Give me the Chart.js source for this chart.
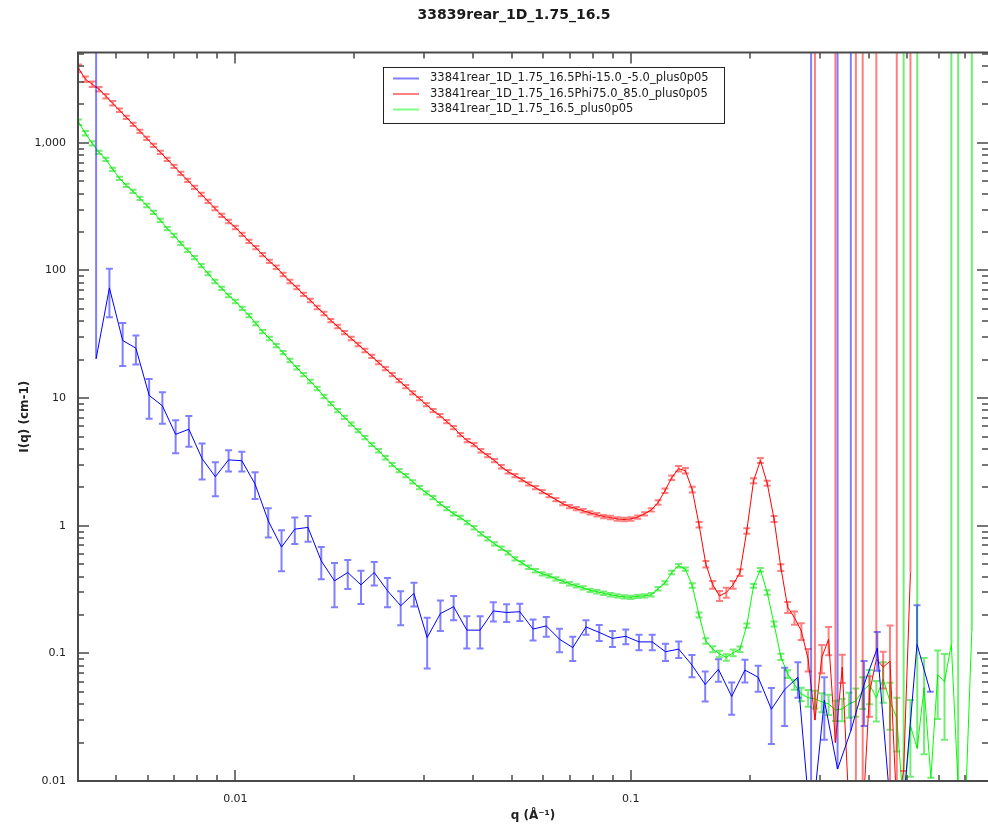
<!DOCTYPE html>
<html>
<head>
<meta charset="utf-8">
<title>33839rear_1D_1.75_16.5</title>
<script src="https://cdn.jsdelivr.net/npm/chart.js"></script>
<style>
  html, body { margin: 0; padding: 0; background: #fff; }
  canvas { display: block; }
</style>
</head>
<body>
<canvas id="sasChart" width="988" height="824"></canvas>
<script>
// fine q grid shared by the Phi75 sector and the full average (A^-1)
const qFine = [
  // 1e-3 decade
  0.0040131, 0.0041757, 0.0043448, 0.0045208, 0.0047039, 0.0048944, 0.0050926, 0.0052989,
  0.0055135, 0.0057368, 0.0059691, 0.0062109, 0.0064624, 0.0067242, 0.0069965, 0.0072798,
  0.0075747, 0.0078815, 0.0082007, 0.0085328, 0.0088784, 0.009238, 0.0096121,
  // 1e-2 decade
  0.01, 0.010405, 0.010826, 0.011265, 0.011721, 0.012195, 0.012689, 0.013203, 0.013738, 0.014294,
  0.014873, 0.015476, 0.016103, 0.016755, 0.017433, 0.01814, 0.018874, 0.019639, 0.020434, 0.021262,
  0.022123, 0.023019, 0.023951, 0.024921, 0.025931, 0.026981, 0.028074, 0.029211, 0.030394, 0.031625,
  0.032906, 0.034238, 0.035625, 0.037068, 0.038569, 0.040131, 0.041757, 0.043448, 0.045208, 0.047039,
  0.048944, 0.050926, 0.052989, 0.055135, 0.057368, 0.059691, 0.062109, 0.064624, 0.067242, 0.069965,
  0.072798, 0.075747, 0.078815, 0.082007, 0.085328, 0.088784, 0.09238, 0.096121,
  // 1e-1 decade
  0.1, 0.10405, 0.10826, 0.11265, 0.11721, 0.12195, 0.12689, 0.13203, 0.13738, 0.14294,
  0.14873, 0.15476, 0.16103, 0.16755, 0.17433, 0.1814, 0.18874, 0.19639, 0.20434, 0.21262,
  0.22123, 0.23019, 0.23951, 0.24921, 0.25931, 0.26981, 0.28074, 0.29211, 0.30394, 0.31625,
  0.32906, 0.34238, 0.35625, 0.37068, 0.38569, 0.40131, 0.41757, 0.43448, 0.45208, 0.47039,
  0.48944, 0.50926, 0.52989, 0.55135, 0.57368, 0.59691, 0.62109, 0.64624, 0.67242, 0.69965,
  0.72798
];

// coarser grid of the Phi-15 sector
const qBlue = [
  0.004445, 0.004803, 0.005188, 0.0056036, 0.0060527, 0.006538, 0.0070616, 0.0076275, 0.0082387, 0.008899,
  0.0096117, 0.010382, 0.011214, 0.012112, 0.013083, 0.014132, 0.015264, 0.016489, 0.017809, 0.019237,
  0.020778, 0.022443, 0.024241, 0.026182, 0.028281, 0.030547, 0.032993, 0.035637, 0.038491, 0.041575,
  0.044905, 0.048502, 0.052388, 0.056585, 0.061117, 0.066013, 0.071301, 0.077013, 0.083181, 0.089845,
  0.09708, 0.10486, 0.11327, 0.12234, 0.13214, 0.14272, 0.15417, 0.16653, 0.17987, 0.19428,
  0.20986, 0.22666, 0.24482, 0.26444, 0.28561, 0.30849, 0.33322, 0.35994, 0.38876, 0.4199,
  0.45355, 0.48989, 0.52913, 0.5716
];

// I(q) in cm^-1, Phi -15.0 .. -5.0
const blueI = [
  20.3, 73, 28.3, 24.6, 10.5, 8.7, 5.2, 5.7, 3.35, 2.42,
  3.28, 3.23, 2.12, 1.09, 0.68, 0.94, 0.97, 0.53, 0.37, 0.43,
  0.344, 0.43, 0.31, 0.236, 0.295, 0.133, 0.205, 0.232, 0.152, 0.152,
  0.215, 0.209, 0.212, 0.155, 0.164, 0.129, 0.111, 0.161, 0.146, 0.131,
  0.136, 0.123, 0.123, 0.103, 0.108, 0.081, 0.057, 0.075, 0.046, 0.074,
  0.065, 0.0365, 0.052, 0.065, 0.004, 0.043, 0.0124, 0.0247, 0.057, 0.11,
  0.006, 0.007, 0.118, 0.05
];
const blueErr = [
  9000, 30, 10.5, 6.3, 3.6, 2.4, 1.5, 1.55, 1.05, 0.72,
  0.62, 0.57, 0.5, 0.28, 0.24, 0.22, 0.22, 0.15, 0.14, 0.11,
  0.10, 0.09, 0.08, 0.07, 0.062, 0.057, 0.055, 0.05, 0.043, 0.043,
  0.037, 0.033, 0.033, 0.029, 0.029, 0.027, 0.024, 0.021, 0.021, 0.019,
  0.018, 0.017, 0.017, 0.016, 0.016, 0.016, 0.015, 0.015, 0.013, 0.015,
  0.015, 0.017, 0.025, 0.02, 9000, 0.022, 9000, 9000, 0.03, 0.037,
  0, 0, 0.12, 0
];

// Phi 75.0 .. 85.0
const redI = [
  3840, 3150, 2880, 2630, 2320, 2040, 1800, 1585, 1396, 1231,
  1084, 955, 842, 742, 654, 576, 508, 448, 394, 348,
  306, 270, 242,
  217, 192, 169, 151, 133, 118, 106, 93, 82, 73.6,
  64.9, 58.2, 51.3, 46.0, 40.5, 36.4, 32.6, 29.3, 26.3, 23.6,
  21.2, 19.0, 17.0, 15.3, 13.7, 12.3, 11.0, 9.91, 8.89, 7.98,
  7.29, 6.54, 5.87, 5.17, 4.64, 4.32, 3.87, 3.54, 3.24, 2.90,
  2.65, 2.47, 2.30, 2.13, 1.99, 1.85, 1.72, 1.60, 1.49, 1.41,
  1.36, 1.31, 1.26, 1.22, 1.18, 1.16, 1.13, 1.12,
  1.13, 1.17, 1.24, 1.33, 1.52, 1.88, 2.38, 2.80, 2.70, 1.92,
  1.02, 0.50, 0.345, 0.282, 0.30, 0.345, 0.43, 0.91, 2.25, 3.24,
  2.15, 1.13, 0.47, 0.23, 0.19, 0.15, 0.09, 0.03, 0.093, 0.129,
  0.02, 0.078, 0.006, 0.005, 0.005, 0.049, 0.09, 0.078, 0.087, 0.006,
  0.012, 0.43
];
// relative errors in percent (1e9 marks a bar that runs off the top)
const redErrPct = [
  7, 5, 5, 4, 4, 4, 3, 3, 3, 3,
  3, 3, 3, 3, 3, 3, 3, 3, 3, 3,
  3, 3, 3,
  3, 3, 3, 3, 3, 3, 3, 3, 3, 3,
  3, 3, 3, 3, 3, 3, 3, 3, 3, 3,
  3, 3, 3, 3, 3, 3, 3, 3, 3, 3,
  3, 3, 3, 3, 3, 3, 3, 3, 3, 3,
  3, 3, 3, 3, 3, 3, 3, 3, 3, 3,
  3, 3, 3, 3, 3, 3, 3, 3,
  3, 3, 3, 3, 4, 4, 4, 5, 5, 5,
  5, 6, 7, 9, 9, 7, 6, 5, 4.5, 4.5,
  4.5, 5.5, 6, 10, 12, 15, 20, 1e9, 25, 25,
  1e9, 25, 0, 1e9, 1e9, 35, 1e9, 32, 90, 1e9,
  0, 1e9
];

// full azimuthal average
const greenI = [
  1449, 1188, 991, 842, 742, 620, 527, 464, 417, 367,
  323, 285, 247, 213, 188, 163, 144, 126, 109, 94.7,
  82.0, 72.3, 63.7,
  57.1, 50.4, 44.4, 38.4, 33.2, 29.3, 25.8, 22.7, 19.7, 17.3,
  15.3, 13.5, 11.9, 10.3, 9.06, 7.98, 7.07, 6.25, 5.56, 4.90,
  4.32, 3.87, 3.41, 3.01, 2.70, 2.47, 2.21, 1.99, 1.81, 1.66,
  1.49, 1.36, 1.24, 1.16, 1.06, 0.965, 0.866, 0.791, 0.722, 0.666,
  0.614, 0.551, 0.513, 0.473, 0.444, 0.420, 0.405, 0.384, 0.367, 0.351,
  0.338, 0.326, 0.312, 0.304, 0.296, 0.288, 0.282, 0.277,
  0.275, 0.280, 0.282, 0.288, 0.321, 0.357, 0.43, 0.486, 0.457, 0.34,
  0.20, 0.125, 0.108, 0.099, 0.093, 0.101, 0.108, 0.165, 0.338, 0.452,
  0.30, 0.17, 0.094, 0.069, 0.057, 0.048, 0.045, 0.044, 0.0417, 0.0402,
  0.036, 0.0367, 0.0402, 0.0424, 0.0508, 0.057, 0.045, 0.063, 0.042, 0.031,
  0.006, 0.027, 0.018, 0.054, 0.0106, 0.068, 0.06, 0.118, 0.009, 0.005,
  0.15
];
const greenErrPct = [
  5, 4, 4, 3, 3, 3, 3, 3, 3, 3,
  3, 3, 3, 3, 3, 3, 3, 3, 3, 3,
  3, 3, 3,
  3, 3, 3, 3, 3, 3, 3, 3, 3, 3,
  3, 3, 3, 3, 3, 3, 3, 3, 3, 3,
  3, 3, 3, 3, 3, 3, 3, 3, 3, 3,
  3, 3, 3, 3, 3, 3, 3, 3, 3, 3,
  3, 3, 3, 3, 3, 3, 3, 3, 3, 3,
  3, 3, 3, 3, 3, 3, 3, 3,
  3, 3, 3, 3, 3, 3, 3, 3, 3, 4,
  4.5, 5, 5.5, 6, 6, 6, 5, 4, 3.5, 3,
  4, 4.5, 5.5, 7, 9, 12, 15, 16, 17, 18,
  18, 20, 22, 25, 28, 30, 35, 35, 40, 45,
  1e9, 60, 1e9, 70, 0, 55, 65, 1e9, 1e9, 0,
  1e9
];

const chartTitle = '33839rear_1D_1.75_16.5';
const seriesNames = [
  '33841rear_1D_1.75_16.5Phi-15.0_-5.0_plus0p05',
  '33841rear_1D_1.75_16.5Phi75.0_85.0_plus0p05',
  '33841rear_1D_1.75_16.5_plus0p05'
];
const xTickValues = [0.01, 0.1];
const xTickLabels = ['0.01', '0.1'];
const yTickValues = [0.01, 0.1, 1, 10, 100, 1000];
const yTickLabels = ['0.01', '0.1', '1', '10', '100', '1,000'];

const FONT = '"DejaVu Sans", Verdana, sans-serif';
const lineColors = ['#0000ff', '#ff0000', '#00ff00'];
const barColors = ['rgba(0,0,255,0.5)', 'rgba(255,0,0,0.5)', 'rgba(0,220,0,0.55)'];
const legendColors = ['#8080ff', '#ff8080', '#80ff80'];

function toPoints(q, vals) {
  return vals.map((v, i) => ({ x: q[i], y: v }));
}
function pctToAbs(vals, pct) {
  return vals.map((v, i) => v * pct[i] / 100);
}

// vertical error bars with caps, drawn right after their own line
const errorBars = {
  id: 'errorBars',
  afterDatasetDraw(chart, args) {
    const ds = chart.data.datasets[args.index];
    if (!ds.errors) return;
    const { ctx, chartArea: a, scales: { x, y } } = chart;
    const cap = 3.5;
    ctx.save();
    ctx.beginPath();
    ctx.rect(a.left, a.top, a.right - a.left, a.bottom - a.top);
    ctx.clip();
    ctx.strokeStyle = ds.errorColor;
    ctx.lineWidth = 2;
    ds.data.forEach((p, i) => {
      const e = ds.errors[i];
      const px = x.getPixelForValue(p.x);
      const py = y.getPixelForValue(p.y);
      ctx.beginPath();
      if (!e) {
        ctx.moveTo(px - cap, py);
        ctx.lineTo(px + cap, py);
        ctx.stroke();
        return;
      }
      const lo = p.y - e;
      const top = y.getPixelForValue(p.y + e);
      // a negative lower bound has no place on a log axis: keep only the upper half
      const bot = lo > 0 ? y.getPixelForValue(lo) : py;
      ctx.moveTo(px, top);
      ctx.lineTo(px, bot);
      ctx.moveTo(px - cap, top);
      ctx.lineTo(px + cap, top);
      if (lo > 0) {
        ctx.moveTo(px - cap, bot);
        ctx.lineTo(px + cap, bot);
      }
      ctx.stroke();
    });
    ctx.restore();
  }
};

// box on left/top/bottom plus inward tick marks on all four sides
const frameTicks = {
  id: 'frameTicks',
  afterDatasetsDraw(chart) {
    const { ctx, chartArea: a, scales: { x, y } } = chart;
    ctx.save();
    ctx.strokeStyle = '#4a4a4a';
    ctx.lineWidth = 2;
    ctx.beginPath();
    ctx.moveTo(a.right, a.top);
    ctx.lineTo(a.left, a.top);
    ctx.lineTo(a.left, a.bottom);
    ctx.lineTo(a.right, a.bottom);
    ctx.stroke();

    ctx.lineWidth = 1.5;
    ctx.beginPath();
    for (let e = -3; e <= 0; e++) {
      for (let m = 1; m <= 9; m++) {
        const v = m * Math.pow(10, e);
        if (v <= x.min || v >= x.max) continue;
        const px = Math.round(x.getPixelForValue(v));
        const len = m === 1 ? 11 : 6;
        ctx.moveTo(px, a.bottom);
        ctx.lineTo(px, a.bottom - len);
        ctx.moveTo(px, a.top);
        ctx.lineTo(px, a.top + len);
      }
    }
    for (let e = -2; e <= 3; e++) {
      for (let m = 1; m <= 9; m++) {
        const v = m * Math.pow(10, e);
        if (v <= y.min || v >= y.max) continue;
        const py = Math.round(y.getPixelForValue(v));
        const len = m === 1 ? 11 : 6;
        ctx.moveTo(a.left, py);
        ctx.lineTo(a.left + len, py);
        ctx.moveTo(a.right, py);
        ctx.lineTo(a.right - len, py);
      }
    }
    ctx.stroke();
    ctx.restore();
  }
};

// chart title and the boxed legend inside the plot
const titleLegend = {
  id: 'titleLegend',
  afterDraw(chart) {
    const ctx = chart.ctx;
    ctx.save();
    ctx.fillStyle = '#1a1a1a';
    ctx.font = 'bold 14px ' + FONT;
    ctx.textAlign = 'center';
    ctx.textBaseline = 'middle';
    ctx.fillText(chartTitle, 514, 15);

    ctx.fillStyle = '#fff';
    ctx.fillRect(384, 68, 341, 55);
    ctx.strokeStyle = '#222';
    ctx.lineWidth = 1;
    ctx.strokeRect(383.5, 67.5, 341, 56);
    const rows = [78.5, 94, 109.5];
    ctx.font = '11.5px ' + FONT;
    ctx.textAlign = 'left';
    seriesNames.forEach((name, i) => {
      ctx.strokeStyle = legendColors[i];
      ctx.lineWidth = 2;
      ctx.beginPath();
      ctx.moveTo(393, rows[i]);
      ctx.lineTo(419, rows[i]);
      ctx.stroke();
      ctx.fillStyle = '#1a1a1a';
      ctx.fillText(name, 430, rows[i]);
    });
    ctx.restore();
  }
};

Chart.defaults.font.family = FONT;
Chart.defaults.color = '#222';

const datasets = [
  { label: seriesNames[0], data: toPoints(qBlue, blueI), errors: blueErr },
  { label: seriesNames[1], data: toPoints(qFine, redI), errors: pctToAbs(redI, redErrPct) },
  { label: seriesNames[2], data: toPoints(qFine, greenI), errors: pctToAbs(greenI, greenErrPct) }
].map((d, i) => Object.assign(d, {
  borderColor: lineColors[i],
  errorColor: barColors[i],
  borderWidth: 1,
  pointRadius: 0,
  tension: 0,
  fill: false
}));

new Chart(document.getElementById('sasChart'), {
  type: 'line',
  data: { datasets },
  options: {
    responsive: false,
    animation: false,
    devicePixelRatio: 1,
    layout: { padding: { top: 52.5, right: 0, bottom: 0, left: 0 } },
    plugins: {
      legend: { display: false },
      tooltip: { enabled: false }
    },
    scales: {
      x: {
        type: 'logarithmic',
        min: 0.004,
        max: 0.8,
        afterFit: s => { s.height = 43; },
        afterBuildTicks: s => { s.ticks = xTickValues.map(v => ({ value: v })); },
        grid: { display: false, drawTicks: false },
        border: { display: false },
        ticks: {
          autoSkip: false, maxRotation: 0, minRotation: 0, padding: 12,
          font: { size: 11 },
          callback: (v, i) => xTickLabels[i]
        },
        title: {
          display: true, text: 'q (Å⁻¹)',
          font: { size: 12, weight: 'bold' },
          padding: { top: 0, bottom: 1 }
        }
      },
      y: {
        type: 'logarithmic',
        min: 0.01,
        max: 5100,
        afterFit: s => { s.width = 78; },
        afterBuildTicks: s => { s.ticks = yTickValues.map(v => ({ value: v })); },
        grid: { display: false, drawTicks: false },
        border: { display: false },
        ticks: {
          autoSkip: false, padding: 12,
          font: { size: 11 },
          callback: (v, i) => yTickLabels[i]
        },
        title: {
          display: true, text: 'I(q) (cm-1)',
          font: { size: 12, weight: 'bold' },
          padding: { top: 18, bottom: 0 }
        }
      }
    }
  },
  plugins: [errorBars, frameTicks, titleLegend]
});
</script>
</body>
</html>
